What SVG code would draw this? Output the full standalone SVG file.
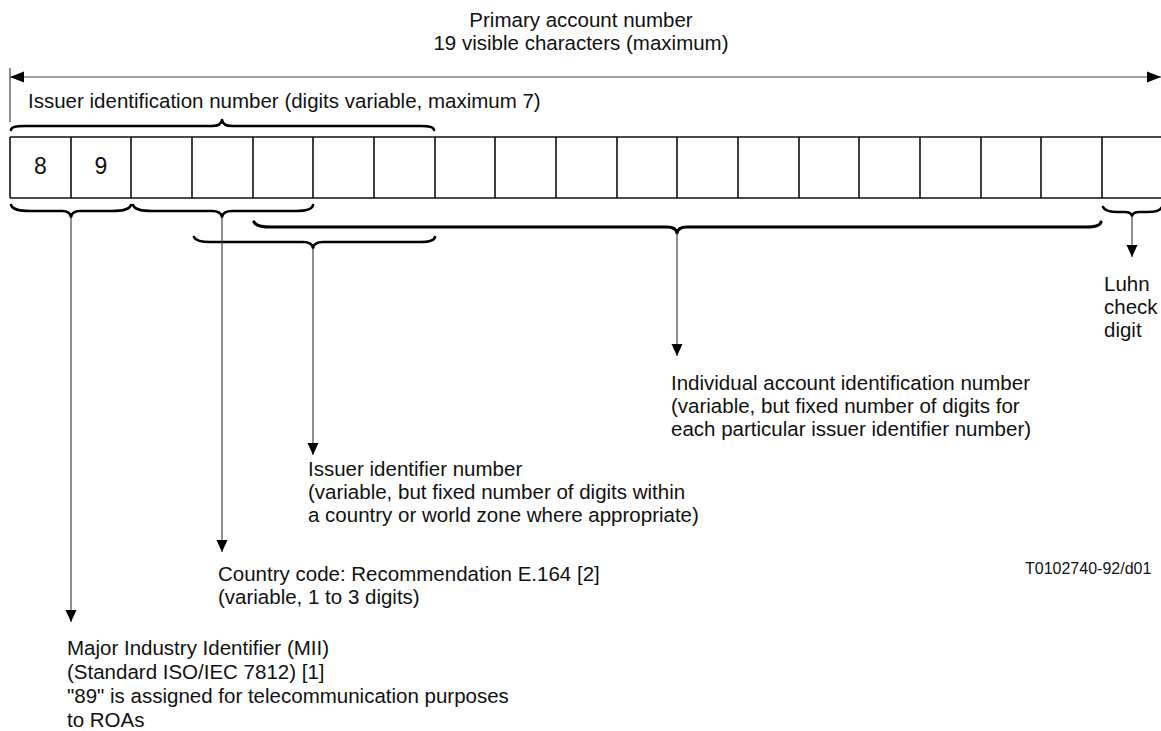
<svg xmlns="http://www.w3.org/2000/svg" width="1161" height="731" viewBox="0 0 1161 731">
<style>
  text { font-family: "Liberation Sans", Arial, sans-serif; font-size: 20.5px; fill: #111; }
  .mid { text-anchor: middle; }
  .digit { font-size: 23px; text-anchor: middle; }
  .small { font-size: 16px; }
  .cells { fill: none; stroke: #111; stroke-width: 1.6; }
  .brace { fill: none; stroke: #000; stroke-width: 2.6; stroke-linecap: round; stroke-linejoin: round; }
  .lead { fill: none; stroke: #444; stroke-width: 1.2; }
</style>
<defs>
  <marker id="ah" markerUnits="userSpaceOnUse" markerWidth="12" markerHeight="12" refX="12" refY="6" orient="auto-start-reverse">
    <path d="M0,0.5 L12,6 L0,11.5 Z" fill="#000"/>
  </marker>
  <marker id="ah2" markerUnits="userSpaceOnUse" markerWidth="14" markerHeight="12" refX="14" refY="6" orient="auto-start-reverse">
    <path d="M0,0.5 L14,6 L0,11.5 Z" fill="#000"/>
  </marker>
</defs>

<g id="title">
  <text class="mid" x="581" y="27">Primary account number</text>
  <text class="mid" x="581" y="50">19 visible characters (maximum)</text>
</g>

<g id="pan-boxes">
  <path class="cells" d="M10,137 H1162 M10,198 H1162 M10,137 V198 M71,137 V198 M131,137 V198 M192,137 V198 M253,137 V198 M313,137 V198 M374,137 V198 M435,137 V198 M495,137 V198 M556,137 V198 M617,137 V198 M677,137 V198 M738,137 V198 M799,137 V198 M859,137 V198 M920,137 V198 M981,137 V198 M1041,137 V198 M1102,137 V198"/>
  <text class="digit" x="40.5" y="174">8</text>
  <text class="digit" x="101" y="174">9</text>
</g>

<g id="iin-label">
  <text x="28" y="108">Issuer identification number (digits variable, maximum 7)</text>
</g>

<g id="luhn">
  <text x="1104" y="291">Luhn</text>
  <text x="1104" y="314">check</text>
  <text x="1104" y="337">digit</text>
</g>

<g id="individual">
  <text x="671" y="390">Individual account identification number</text>
  <text x="671" y="413">(variable, but fixed number of digits for</text>
  <text x="671" y="436">each particular issuer identifier number)</text>
</g>

<g id="issuer">
  <text x="308" y="476">Issuer identifier number</text>
  <text x="308" y="499">(variable, but fixed number of digits within</text>
  <text x="308" y="522">a country or world zone where appropriate)</text>
</g>

<g id="figure-id">
  <text class="small" x="1025" y="574">T0102740-92/d01</text>
</g>

<g id="country">
  <text x="218" y="581">Country code: Recommendation E.164 [2]</text>
  <text x="218" y="604">(variable, 1 to 3 digits)</text>
</g>

<g id="mii">
  <text x="67" y="655">Major Industry Identifier (MII)</text>
  <text x="67" y="679">(Standard ISO/IEC 7812) [1]</text>
  <text x="67" y="703">"89" is assigned for telecommunication purposes</text>
  <text x="67" y="727">to ROAs</text>
</g>

<g id="connectors">
  <line class="lead" x1="10" y1="68" x2="10" y2="122"/>
  <line class="lead" x1="10" y1="77" x2="1161" y2="77" marker-start="url(#ah2)" marker-end="url(#ah2)"/>
  <path class="brace" d="M11,130 Q11,126 24,126 L212,126 Q221,126 222,120 Q223,126 232,126 L421,126 Q434,126 434,130"/>
  <path class="brace" d="M11,205 Q13,211 30,211 L62,211 Q70,211 71,217 Q72,211 80,211 L112,211 Q129,211 131,205"/>
  <path class="brace" d="M133,205 Q135,211 152,211 L212,211 Q221,211 222,217 Q223,211 232,211 L296,211 Q312,211 313,205"/>
  <path class="brace" d="M194,237 Q196,242 210,242 L303,242 Q312,242 313,248 Q314,242 323,242 L420,242 Q434,242 435,237"/>
  <path class="brace" style="stroke-width:3.2" d="M254,222 Q256,227 272,227 L667,227 Q676,227 677,233 Q678,227 687,227 L1086,227 Q1100,227 1101,222"/>
  <path class="brace" d="M1103,207 Q1105,212 1118,212 L1125,212 Q1131,212 1132,216 Q1133,212 1139,212 L1148,212 Q1160,212 1162,207"/>
  <line class="lead" x1="71" y1="217" x2="71" y2="622" marker-end="url(#ah)"/>
  <line class="lead" x1="222" y1="217" x2="222" y2="552" marker-end="url(#ah)"/>
  <line class="lead" x1="313" y1="248" x2="313" y2="455" marker-end="url(#ah)"/>
  <line class="lead" x1="677" y1="233" x2="677" y2="356" marker-end="url(#ah)"/>
  <line class="lead" x1="1132" y1="216" x2="1132" y2="257" marker-end="url(#ah)"/>
</g>
</svg>
